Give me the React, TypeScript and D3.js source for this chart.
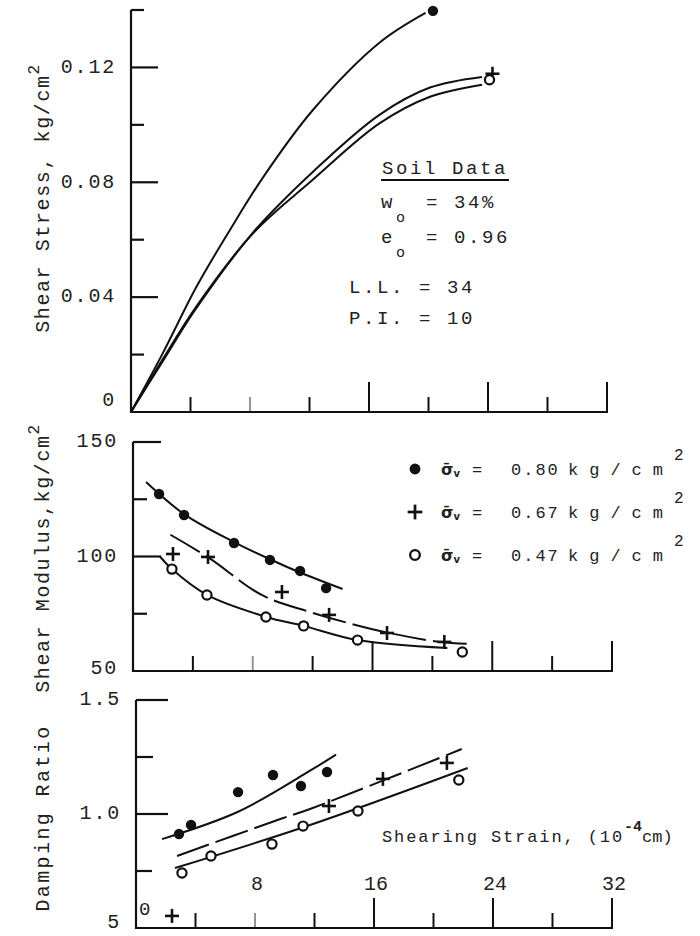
import * as d3 from 'd3';

// shearing strain ticks (10^-4 cm)
const strainTicks = [4, 8, 12, 16, 20, 24, 28, 32];
const strainMajor = [16, 24, 32];
const strainLabels = [8, 16, 24, 32];

// --- shear stress vs strain (kg/cm2), curves
const stress080 = [[0, 0], [2.15, 0.0206], [4.4, 0.0436], [6.65, 0.0634], [8.9, 0.0819], [12.2, 0.105], [16.7, 0.1286], [19.8, 0.139]];
const stress067 = [[0, 0], [2.15, 0.0185], [4.4, 0.0368], [8.2, 0.0625], [12.2, 0.0835], [16.7, 0.1035], [20.1, 0.113], [23.6, 0.1167]];
const stress047 = [[0, 0], [2.15, 0.0178], [4.4, 0.0362], [8.2, 0.0622], [12.2, 0.0808], [16.7, 0.1005], [20.1, 0.1098], [23.6, 0.114]];
const stressEnd080 = [[20.3, 0.1397]];
const stressEnd067 = [[24.3, 0.1178]];
const stressEnd047 = [[24.1, 0.1157]];

// --- shear modulus (kg/cm2)
const modulus080 = [[1.74, 127.3], [3.41, 118.1], [6.75, 105.9], [9.15, 98.5], [11.16, 93.7], [12.9, 86.2]];
const modulus067 = [[2.67, 101.1], [5.01, 99.8], [9.95, 84.5], [13.1, 74.5], [16.97, 66.6], [20.8, 62.7]];
const modulus047 = [[2.6, 94.5], [4.94, 83.2], [8.88, 73.6], [11.4, 69.7], [15.0, 63.5], [22.0, 58.3]];
const modulusFit080 = [[0.87, 132.5], [3.41, 118.5], [6.75, 106.3], [9.15, 98.8], [11.16, 93.0], [14.0, 85.8]];
const modulusFit067 = [[2.5, 109.5], [5.1, 99.3], [8.6, 83.2], [11.8, 75.8], [16.5, 67.5], [20.5, 62.7], [22.6, 61.8]];
const modulusFit047 = [[1.8, 100], [2.6, 94.5], [4.94, 83.2], [8.9, 73.6], [11.4, 69.7], [15, 63.5], [21, 60]];

// --- damping ratio
const damping080 = [[2.89, 0.912], [3.7, 0.952], [6.86, 1.096], [9.21, 1.171], [11.09, 1.123], [12.84, 1.184]];
const damping067 = [[2.42, 0.553], [12.97, 1.035], [16.6, 1.154], [20.9, 1.224]];
const damping047 = [[3.09, 0.741], [5.04, 0.816], [9.14, 0.868], [11.23, 0.947], [14.92, 1.013], [21.7, 1.149]];
const dampingFit080 = [[1.75, 0.89], [6.86, 1.01], [11.7, 1.19], [13.45, 1.26]];
const dampingFit067 = [[2.76, 0.816], [9.8, 0.98], [11.7, 1.022], [21.9, 1.285]];
const dampingFit047 = [[2.62, 0.763], [11.7, 0.952], [22.3, 1.202]];

const legendRows = ['0.80', '0.67', '0.47'];
const soilData = [['L.L.', '34'], ['P.I.', '10']];

const MONO = '"Liberation Mono", "DejaVu Sans Mono", monospace';
const INK = '#111';

const Marker = ({ kind, x, y, s = 1 }) => {
  if (kind === 'dot') return <circle cx={x} cy={y} r={5.2 * s} fill={INK} />;
  if (kind === 'plus')
    return (
      <g stroke={INK} strokeWidth={2.6 * s}>
        <line x1={x - 7 * s} x2={x + 7 * s} y1={y} y2={y} />
        <line x1={x} x2={x} y1={y - 7 * s} y2={y + 7 * s} />
      </g>
    );
  return <circle cx={x} cy={y} r={4.6 * s} fill="white" stroke={INK} strokeWidth={2.2 * s} />;
};

const Panel = ({ x, y, yTicks, yLabels, xLabels }) => {
  const [x0, x1] = x.range();
  const [y0, y1] = y.range();
  return (
    <g stroke={INK} fill="none">
      <line x1={x0} x2={x0} y1={y0 + 1} y2={y1} strokeWidth={2.2} />
      <line x1={x0} x2={x1 + 1} y1={y0} y2={y0} strokeWidth={2.2} />
      {yTicks.map((t) => (
        <line key={'yt' + t.v} x1={x0} x2={x0 + t.len} y1={y(t.v)} y2={y(t.v)} strokeWidth={2.2} />
      ))}
      {strainTicks.map((t) => (
        <line
          key={'xt' + t}
          x1={x(t)}
          x2={x(t)}
          y1={y0}
          y2={y0 - (strainMajor.includes(t) ? 30 : 15)}
          strokeWidth={2}
          opacity={t === 8 ? 0.45 : 1}
        />
      ))}
      {yLabels.map((l) => (
        <text
          key={'yl' + l.t}
          x={x0 - 15}
          y={y(l.v)}
          stroke="none"
          fill="#222"
          textAnchor="end"
          dominantBaseline="middle"
          fontFamily={MONO}
          fontSize={20}
          letterSpacing={1.8}
        >
          {l.t}
        </text>
      ))}
      {xLabels &&
        strainLabels.map((t) => (
          <text key={'xl' + t} x={x(t) + 2} y={y0 - 38} stroke="none" fill="#222" textAnchor="middle" fontFamily={MONO} fontSize={20}>
            {t}
          </text>
        ))}
    </g>
  );
};

const Series = ({ x, y, fit, pts, kind, dash }) => {
  const line = d3
    .line()
    .x((d) => x(d[0]))
    .y((d) => y(d[1]))
    .curve(d3.curveCatmullRom.alpha(0.5));
  return (
    <g>
      {fit && <path d={line(fit)} fill="none" stroke={INK} strokeWidth={2} strokeDasharray={dash} />}
      {pts.map((d, i) => (
        <Marker key={i} kind={kind} x={x(d[0])} y={y(d[1])} />
      ))}
    </g>
  );
};

export default function App() {
  const xTop = d3.scaleLinear().domain([0, 32]).range([131, 607]);
  const yTop = d3.scaleLinear().domain([0, 0.14]).range([412, 10]);
  const xMid = d3.scaleLinear().domain([0, 32]).range([133, 612]);
  const yMid = d3.scaleLinear().domain([50, 150]).range([671, 442]);
  const xBot = d3.scaleLinear().domain([0, 32]).range([136, 612]);
  const yBot = d3.scaleLinear().domain([0.5, 1.5]).range([928, 700]);

  const txt = { fontFamily: MONO, fill: '#222' };

  return (
    <svg width={700} height={936} style={{ position: 'absolute', left: 0, top: 0, background: 'white' }}>
      {/* shear stress */}
      <Panel
        x={xTop}
        y={yTop}
        yTicks={[
          { v: 0.02, len: 13 }, { v: 0.04, len: 27 }, { v: 0.06, len: 13 }, { v: 0.08, len: 27 },
          { v: 0.1, len: 13 }, { v: 0.12, len: 27 }, { v: 0.14, len: 13 },
        ]}
        yLabels={[{ v: 0.004, t: '0' }, { v: 0.04, t: '0.04' }, { v: 0.08, t: '0.08' }, { v: 0.12, t: '0.12' }]}
      />
      <Series x={xTop} y={yTop} fit={stress080} pts={stressEnd080} kind="dot" />
      <Series x={xTop} y={yTop} fit={stress067} pts={stressEnd067} kind="plus" />
      <Series x={xTop} y={yTop} fit={stress047} pts={stressEnd047} kind="open" />
      <text transform="translate(49,198) rotate(-90)" textAnchor="middle" fontSize={20} letterSpacing={1.6} {...txt}>
        Shear Stress, kg/cm
        <tspan dy={-10} fontSize={16}>2</tspan>
      </text>

      {/* soil data */}
      <g {...txt} fontSize={19} letterSpacing={2.6}>
        <text x={382} y={174}>Soil Data</text>
        <line x1={381} x2={509} y1={180} y2={180} stroke={INK} strokeWidth={1.8} />
        <text x={381} y={208}>w</text>
        <text x={396} y={222} fontSize={15}>o</text>
        <text x={426} y={208}>= 34%</text>
        <text x={381} y={243}>e</text>
        <text x={396} y={257} fontSize={15}>o</text>
        <text x={426} y={243}>= 0.96</text>
        {soilData.map(([k, v], i) => (
          <text key={k} x={349} y={293 + i * 31}>
            {k} = {v}
          </text>
        ))}
      </g>

      {/* shear modulus */}
      <Panel
        x={xMid}
        y={yMid}
        yTicks={[{ v: 75, len: 14 }, { v: 100, len: 28 }, { v: 125, len: 14 }, { v: 150, len: 28 }]}
        yLabels={[{ v: 51, t: '50' }, { v: 100, t: '100' }, { v: 150, t: '150' }]}
      />
      <Series x={xMid} y={yMid} fit={modulusFit080} pts={modulus080} kind="dot" />
      <Series x={xMid} y={yMid} fit={modulusFit067} pts={modulus067} kind="plus" dash="34 7" />
      <Series x={xMid} y={yMid} fit={modulusFit047} pts={modulus047} kind="open" />
      <text transform="translate(49,558) rotate(-90)" textAnchor="middle" fontSize={20} letterSpacing={1.6} {...txt}>
        Shear Modulus,kg/cm
        <tspan dy={-10} fontSize={16}>2</tspan>
      </text>

      {/* legend */}
      {legendRows.map((v, i) => {
        const ly = 469 + i * 43;
        return (
          <g key={v}>
            <Marker kind={['dot', 'plus', 'open'][i]} x={415} y={ly} s={1.05} />
            <text x={441} y={ly + 6} fontFamily="DejaVu Sans" fontWeight="bold" fontSize={16} fill="#222">
              σ̄
              <tspan fontSize={10} dy={2}>v</tspan>
            </text>
            <text x={472} y={ly + 6} fontSize={17} {...txt}>=</text>
            <text x={511} y={ly + 6} fontSize={17} letterSpacing={2} {...txt}>
              {v}
            </text>
            <text x={568} y={ly + 6} fontSize={17} letterSpacing={11} {...txt}>
              kg/cm
              <tspan dy={-15} fontSize={16} letterSpacing={0}>2</tspan>
            </text>
          </g>
        );
      })}

      {/* damping ratio */}
      <Panel
        x={xBot}
        y={yBot}
        yTicks={[{ v: 0.75, len: 16 }, { v: 1.0, len: 32 }, { v: 1.25, len: 17 }, { v: 1.5, len: 32 }]}
        yLabels={[{ v: 0.525, t: '5' }, { v: 1.0, t: '1.0' }, { v: 1.5, t: '1.5' }]}
        xLabels
      />
      <text x={xBot(0) + 3} y={915} fontSize={19} {...txt}>0</text>
      <Series x={xBot} y={yBot} fit={dampingFit080} pts={damping080} kind="dot" />
      <Series x={xBot} y={yBot} fit={dampingFit067} pts={damping067} kind="plus" dash="34 7" />
      <Series x={xBot} y={yBot} fit={dampingFit047} pts={damping047} kind="open" />
      <text transform="translate(49,818) rotate(-90)" textAnchor="middle" fontSize={20} letterSpacing={2.4} {...txt}>
        Damping Ratio
      </text>
      <text x={382} y={842} fontSize={17} letterSpacing={1.9} {...txt}>
        Shearing Strain, (10
        <tspan dy={-11} fontSize={15} fontWeight="bold" letterSpacing={0}>-4</tspan>
        <tspan dy={11} letterSpacing={0}>cm)</tspan>
      </text>
    </svg>
  );
}
